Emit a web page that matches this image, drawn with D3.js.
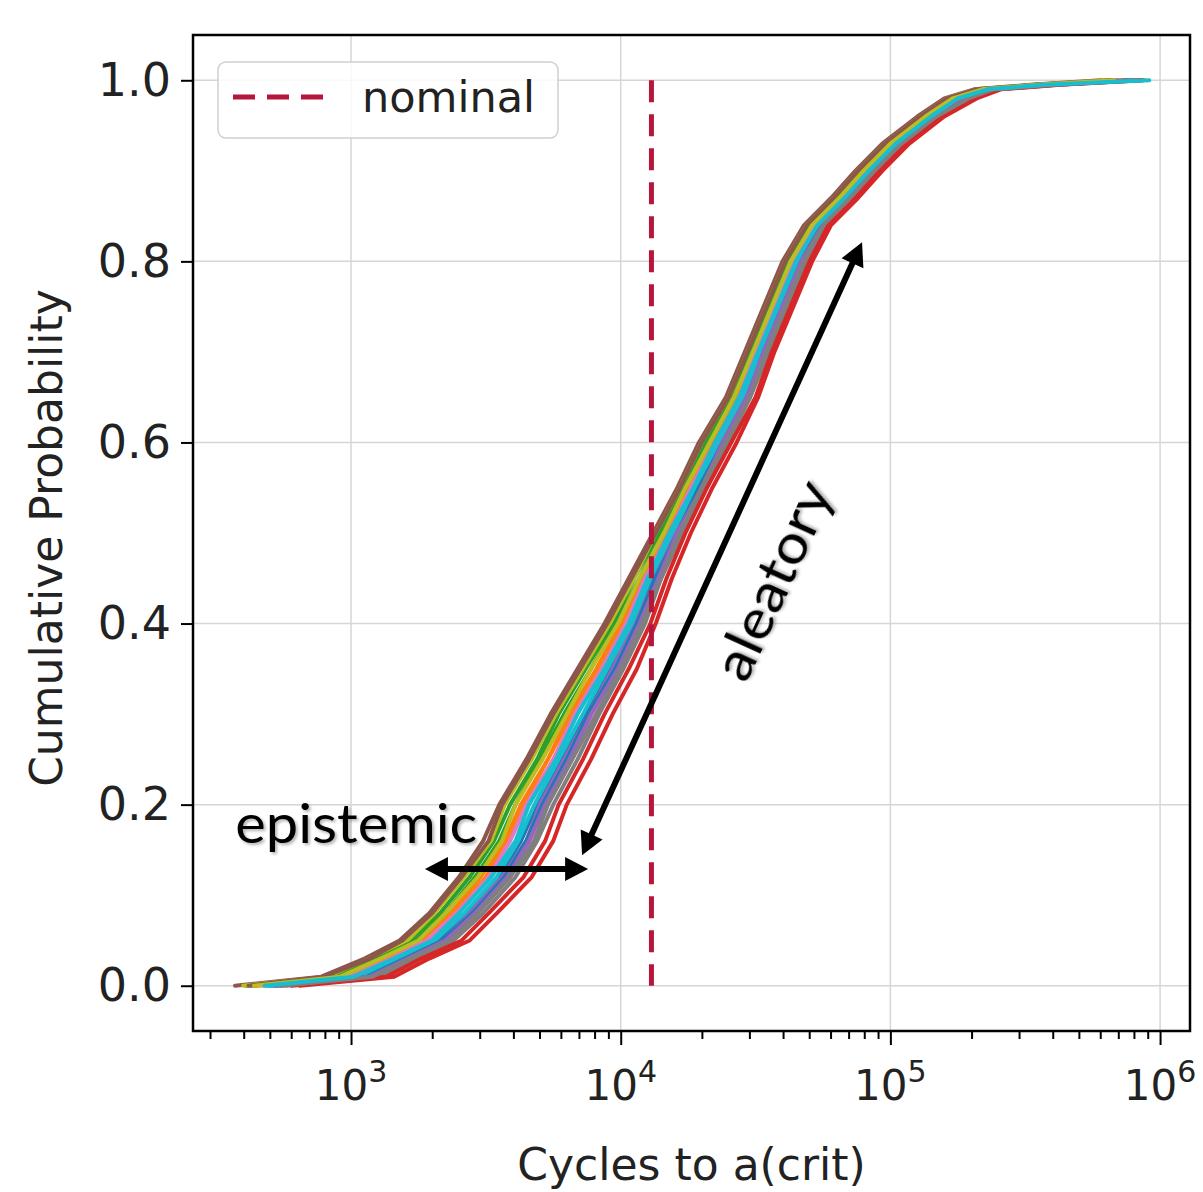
<!DOCTYPE html>
<html><head><meta charset="utf-8">
<script src="https://cdn.jsdelivr.net/npm/d3@7"></script>
<style>body{margin:0;background:#fff}svg{display:block}</style>
</head><body>
<svg id="chart" width="1203" height="1192"></svg>
<script>
// Probability levels at which each CDF curve is sampled
const probLevels = [0,0.01,0.03,0.05,0.08,0.12,0.16,0.2,0.25,0.3,0.35,0.4,0.45,0.5,0.55,0.6,0.65,0.7,0.75,0.8,0.84,0.87,0.9,0.93,0.96,0.98,0.99,0.995,1.0];
// log10(cycles to a(crit)) for each curve at the probability levels above
const curve00 = [2.70,3.04,3.18,3.32,3.43,3.55,3.63,3.69,3.78,3.87,3.96,4.05,4.12,4.20,4.28,4.37,4.46,4.52,4.59,4.66,4.74,4.84,4.93,5.03,5.16,5.27,5.37,5.58,5.88];
const curve01 = [2.65,2.99,3.13,3.27,3.38,3.50,3.58,3.64,3.73,3.82,3.92,4.01,4.09,4.17,4.26,4.34,4.43,4.50,4.57,4.64,4.72,4.82,4.91,5.01,5.14,5.24,5.35,5.56,5.85];
const curve02 = [2.61,2.93,3.09,3.22,3.33,3.44,3.53,3.59,3.69,3.77,3.87,3.97,4.05,4.14,4.23,4.31,4.41,4.48,4.55,4.62,4.70,4.79,4.88,4.98,5.12,5.22,5.33,5.54,5.81];
const curve03 = [2.81,3.16,3.29,3.44,3.54,3.67,3.75,3.80,3.89,3.97,4.06,4.13,4.19,4.26,4.34,4.43,4.51,4.57,4.64,4.71,4.78,4.88,4.97,5.07,5.20,5.32,5.41,5.63,5.94];
const curve04 = [2.71,3.05,3.19,3.34,3.44,3.56,3.65,3.70,3.79,3.88,3.97,4.05,4.13,4.20,4.29,4.37,4.46,4.53,4.60,4.67,4.74,4.84,4.93,5.03,5.16,5.27,5.37,5.59,5.89];
const curve05 = [2.57,2.89,3.05,3.18,3.29,3.40,3.49,3.55,3.65,3.74,3.84,3.94,4.03,4.12,4.21,4.29,4.39,4.46,4.53,4.60,4.68,4.78,4.87,4.97,5.10,5.20,5.31,5.52,5.78];
const curve06 = [2.74,3.08,3.22,3.36,3.47,3.59,3.67,3.73,3.82,3.90,3.99,4.07,4.14,4.22,4.30,4.39,4.47,4.54,4.61,4.68,4.75,4.85,4.94,5.04,5.17,5.28,5.38,5.60,5.91];
const curve07 = [2.76,3.10,3.24,3.38,3.49,3.61,3.69,3.75,3.84,3.92,4.01,4.09,4.15,4.23,4.31,4.40,4.48,4.55,4.62,4.69,4.76,4.86,4.95,5.05,5.18,5.29,5.39,5.61,5.92];
const curve08 = [2.60,2.92,3.07,3.21,3.31,3.42,3.52,3.57,3.67,3.76,3.86,3.96,4.05,4.13,4.22,4.30,4.40,4.47,4.54,4.61,4.69,4.79,4.88,4.98,5.11,5.21,5.32,5.53,5.80];
const curve09 = [2.69,3.03,3.17,3.31,3.42,3.54,3.62,3.68,3.77,3.86,3.95,4.04,4.11,4.19,4.28,4.36,4.45,4.52,4.59,4.66,4.73,4.83,4.92,5.02,5.15,5.26,5.36,5.58,5.87];
const curve10 = [2.72,3.06,3.20,3.34,3.45,3.57,3.65,3.71,3.80,3.88,3.98,4.06,4.13,4.21,4.29,4.38,4.47,4.53,4.60,4.67,4.74,4.84,4.93,5.03,5.16,5.27,5.37,5.59,5.88];
const curve11 = [2.64,2.97,3.12,3.26,3.37,3.48,3.57,3.63,3.73,3.81,3.91,4.00,4.08,4.17,4.25,4.33,4.43,4.49,4.56,4.63,4.71,4.81,4.90,5.00,5.13,5.24,5.34,5.55,5.86];
const curve12 = [2.63,2.95,3.10,3.24,3.35,3.46,3.55,3.61,3.70,3.79,3.89,3.98,4.07,4.15,4.24,4.32,4.42,4.48,4.55,4.62,4.70,4.80,4.89,4.99,5.12,5.23,5.33,5.54,5.84];
const curve13 = [2.78,3.13,3.26,3.41,3.51,3.64,3.72,3.77,3.86,3.94,4.03,4.11,4.17,4.24,4.32,4.41,4.50,4.56,4.63,4.70,4.77,4.87,4.96,5.06,5.19,5.31,5.40,5.62,5.93];
const curve14 = [2.73,3.07,3.21,3.35,3.46,3.58,3.66,3.72,3.81,3.89,3.99,4.07,4.14,4.21,4.30,4.38,4.47,4.53,4.60,4.67,4.75,4.85,4.94,5.04,5.17,5.28,5.38,5.59,5.90];
const curve15 = [2.62,2.90,3.07,3.19,3.30,3.41,3.51,3.56,3.66,3.75,3.85,3.95,4.04,4.13,4.22,4.30,4.40,4.47,4.54,4.61,4.69,4.79,4.88,4.98,5.11,5.21,5.32,5.54,5.82];
const curve16 = [2.67,3.00,3.15,3.28,3.39,3.51,3.59,3.65,3.75,3.83,3.93,4.02,4.09,4.18,4.26,4.35,4.44,4.50,4.57,4.64,4.72,4.82,4.91,5.01,5.14,5.25,5.35,5.56,5.85];
const curve17 = [2.74,3.08,3.22,3.37,3.47,3.59,3.68,3.73,3.82,3.91,4.00,4.08,4.15,4.22,4.30,4.39,4.48,4.54,4.61,4.68,4.75,4.85,4.94,5.04,5.17,5.29,5.38,5.60,5.90];
const curve18 = [2.64,2.96,3.11,3.25,3.35,3.47,3.56,3.61,3.71,3.80,3.89,3.99,4.07,4.16,4.24,4.33,4.42,4.49,4.56,4.63,4.71,4.81,4.90,5.00,5.13,5.23,5.34,5.55,5.83];
const curve19 = [2.68,3.01,3.16,3.30,3.40,3.52,3.61,3.66,3.76,3.84,3.94,4.03,4.10,4.18,4.27,4.35,4.44,4.51,4.58,4.65,4.73,4.83,4.92,5.02,5.15,5.25,5.36,5.57,5.96];
const curvesLog10 = [curve00,curve01,curve02,curve03,curve04,curve05,curve06,curve07,curve08,curve09,
                     curve10,curve11,curve12,curve13,curve14,curve15,curve16,curve17,curve18,curve19];
const seriesColors = ["#1f77b4","#ff7f0e","#2ca02c","#d62728","#9467bd","#8c564b","#e377c2","#7f7f7f","#bcbd22","#17becf"];

const nominalCycles = 13000;
const nominalLabel = "nominal";
const xTickValues = [1e3,1e4,1e5,1e6];
const xTickExponents = ["3","4","5","6"];
const yTickValues = [0,0.2,0.4,0.6,0.8,1.0];
const yTickLabels = ["0.0","0.2","0.4","0.6","0.8","1.0"];
const xLabel = "Cycles to a(crit)";
const yLabel = "Cumulative Probability";
// annotation anchors in data coordinates [cycles, probability]
const epistemicArrow = [[1880,0.129],[7570,0.129]];
const aleatoryArrow = [[7190,0.144],[78500,0.821]];
const epistemicText = {text:"epistemic", at:[372,0.1576]};
const aleatoryText = {text:"aleatory", at:[42500,0.439]};

const svg = d3.select("#chart");
const L=193,R=1190,T=35,B=1031;
const x = d3.scaleLog().domain([Math.pow(10,2.414),Math.pow(10,6.111)]).range([L,R]);
const y = d3.scaleLinear().domain([-0.05,1.05]).range([B,T]);
const axisFont = "'DejaVu Sans', Verdana, sans-serif";
const annoFont = "'Gill Sans', Lato, 'Open Sans', sans-serif";

const defs = svg.append("defs");
defs.append("clipPath").attr("id","clip")
  .append("rect").attr("x",L).attr("y",T).attr("width",R-L).attr("height",B-T);
defs.append("filter").attr("id","shadow").attr("x","-10%").attr("y","-10%").attr("width","130%").attr("height","140%")
  .append("feDropShadow").attr("dx",2).attr("dy",2).attr("stdDeviation",1.5)
  .attr("flood-color","#000").attr("flood-opacity",0.3);

// grid
const grid = svg.append("g").attr("stroke","#d6d6d6").attr("stroke-width",1.5);
grid.selectAll(".gx").data(xTickValues).join("line")
  .attr("x1",d=>x(d)).attr("x2",d=>x(d)).attr("y1",T).attr("y2",B);
grid.selectAll(".gy").data(yTickValues).join("line")
  .attr("y1",d=>y(d)).attr("y2",d=>y(d)).attr("x1",L).attr("x2",R);

// curves
const line = d3.line().x(v=>x(Math.pow(10,v))).y((v,i)=>y(probLevels[i]));
svg.append("g").attr("clip-path","url(#clip)")
  .selectAll("path").data(curvesLog10).join("path")
  .attr("d",line).attr("fill","none")
  .attr("stroke",(d,i)=>seriesColors[i%10])
  .attr("stroke-width",4).attr("stroke-linejoin","round").attr("stroke-linecap","round");

// nominal line
const nomColor = "#b5173c";
svg.append("line").attr("x1",x(nominalCycles)).attr("x2",x(nominalCycles))
  .attr("y1",y(1)).attr("y2",y(0))
  .attr("stroke",nomColor).attr("stroke-width",5).attr("stroke-dasharray","22,12");

// frame
svg.append("rect").attr("x",L).attr("y",T).attr("width",R-L).attr("height",B-T)
  .attr("fill","none").attr("stroke","#000").attr("stroke-width",2.5);

// x axis ticks
const minorTicks = x.ticks().filter(d=>Math.abs(Math.log10(d)-Math.round(Math.log10(d)))>1e-6);
const gxMinor = svg.append("g").attr("transform",`translate(0,${B})`)
  .call(d3.axisBottom(x).tickValues(minorTicks).tickSize(8).tickFormat(""));
const gxMajor = svg.append("g").attr("transform",`translate(0,${B})`)
  .call(d3.axisBottom(x).tickValues(xTickValues).tickSize(14).tickFormat(""));
[gxMinor,gxMajor].forEach(g=>{g.select(".domain").remove();g.selectAll("line").attr("stroke","#000").attr("stroke-width",2);});
const xl = svg.append("g").selectAll("text").data(xTickValues).join("text")
  .attr("x",d=>x(d)).attr("y",1100).attr("text-anchor","middle")
  .attr("font-family",axisFont).attr("font-size",42).attr("fill","#222");
xl.append("tspan").text("10");
xl.append("tspan").attr("dy",-18).attr("font-size",30).text((d,i)=>xTickExponents[i]);

// y axis
const gy = svg.append("g").attr("transform",`translate(${L},0)`)
  .call(d3.axisLeft(y).tickValues(yTickValues).tickFormat((d,i)=>yTickLabels[i]).tickSize(12).tickPadding(10));
gy.select(".domain").remove();
gy.selectAll("line").attr("stroke","#000").attr("stroke-width",2);
gy.selectAll("text").attr("font-family",axisFont).attr("font-size",46).attr("fill","#222");

// axis labels
svg.append("text").attr("x",(L+R)/2).attr("y",1180).attr("text-anchor","middle")
  .attr("font-family",axisFont).attr("font-size",44).attr("fill","#222").text(xLabel);
svg.append("text").attr("transform",`translate(62,${(T+B)/2+5}) rotate(-90)`).attr("text-anchor","middle")
  .attr("font-family",axisFont).attr("font-size",44).attr("fill","#222").text(yLabel);

// legend
const lg = svg.append("g");
lg.append("rect").attr("x",218).attr("y",62).attr("width",340).attr("height",76).attr("rx",8)
  .attr("fill","#fff").attr("fill-opacity",0.85).attr("stroke","#d0d0d0").attr("stroke-width",1.5);
lg.append("line").attr("x1",233).attr("x2",325).attr("y1",97).attr("y2",97)
  .attr("stroke",nomColor).attr("stroke-width",5).attr("stroke-dasharray","22,12");
lg.append("text").attr("x",362).attr("y",112).attr("font-family",axisFont).attr("font-size",43)
  .attr("fill","#222").text(nominalLabel);

// double-headed arrows
function dblArrow(pts){
  const [p0,p1] = pts.map(p=>[x(p[0]),y(p[1])]);
  const dx=p1[0]-p0[0], dy=p1[1]-p0[1], len=Math.hypot(dx,dy), ux=dx/len, uy=dy/len;
  const hl=23, hw=12, g=svg.append("g");
  g.append("line").attr("x1",p0[0]+ux*hl*0.8).attr("y1",p0[1]+uy*hl*0.8)
    .attr("x2",p1[0]-ux*hl*0.8).attr("y2",p1[1]-uy*hl*0.8)
    .attr("stroke","#000").attr("stroke-width",6);
  const head=(tip,sx,sy)=>{
    const bx=tip[0]-sx*hl, by=tip[1]-sy*hl;
    g.append("path").attr("d",`M${tip[0]},${tip[1]}L${bx-sy*hw},${by+sx*hw}L${bx+sy*hw},${by-sx*hw}Z`).attr("fill","#000");
  };
  head(p1,ux,uy); head(p0,-ux,-uy);
  return Math.atan2(dy,dx)*180/Math.PI;
}
dblArrow(epistemicArrow);
const ang = dblArrow(aleatoryArrow);

svg.append("text").attr("x",x(epistemicText.at[0])).attr("y",y(epistemicText.at[1]))
  .attr("font-family",annoFont).attr("font-size",54).attr("fill","#000").attr("filter","url(#shadow)")
  .attr("textLength",242).attr("lengthAdjust","spacingAndGlyphs").text(epistemicText.text);
svg.append("text")
  .attr("transform",`translate(${x(aleatoryText.at[0])},${y(aleatoryText.at[1])}) rotate(${ang})`)
  .attr("text-anchor","middle").attr("font-family",annoFont).attr("font-size",54).attr("fill","#000").attr("filter","url(#shadow)")
  .attr("textLength",212).attr("lengthAdjust","spacingAndGlyphs").text(aleatoryText.text);
</script>
</body></html>
